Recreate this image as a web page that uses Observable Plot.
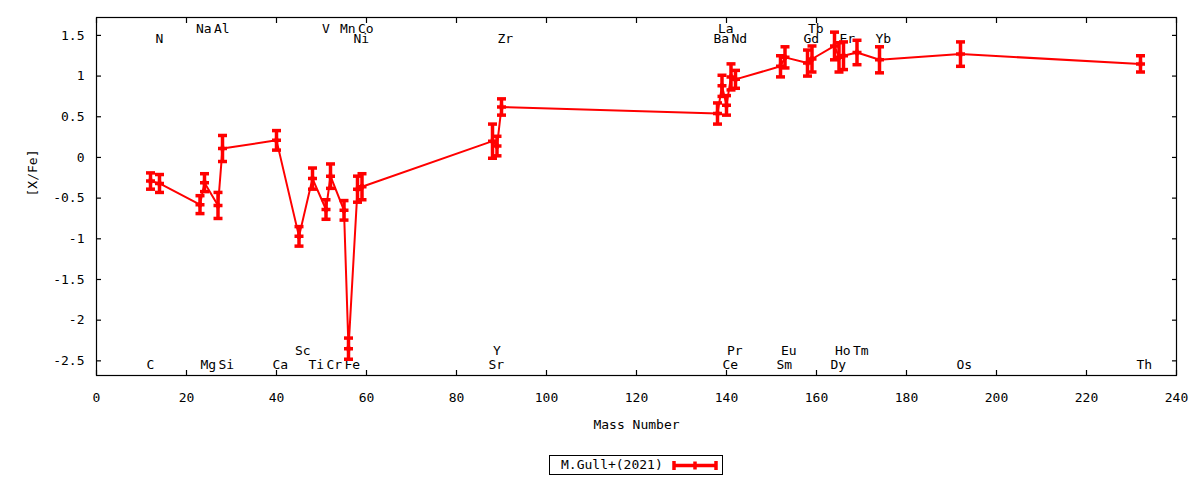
<!DOCTYPE html>
<html><head><meta charset="utf-8">
<script src="https://cdn.jsdelivr.net/npm/d3@7"></script>
<script src="https://cdn.jsdelivr.net/npm/@observablehq/plot@0.6"></script>
<style>
body{margin:0;background:#fff;font-family:"DejaVu Sans Mono",monospace;}
#wrap{position:relative;width:1200px;height:480px;background:#fff;}
#legend{position:absolute;left:549px;top:455px;width:172px;height:18px;border:1px solid #000;font-size:13px;color:#000;}
#legend span{position:absolute;left:11px;top:0px;line-height:18px;}
#legend svg{position:absolute;left:120px;top:0px;}
</style></head><body>
<div id="wrap"><div id="chart"></div>
<div id="legend"><span>M.Gull+(2021)</span>
<svg width="50" height="18"><g stroke="#ff0000" stroke-width="3.5"><line x1="4" y1="9.5" x2="46" y2="9.5"/><line x1="4" y1="5" x2="4" y2="14"/><line x1="46" y1="5" x2="46" y2="14"/><line x1="25" y1="5.5" x2="25" y2="13.5"/></g></svg>
</div></div>
<script>
// element, mass number, [X/Fe], error, label row (0 bottom-low, 1 bottom-high, 2 top-low, 3 top-high)
const elements = ["C","N","Na","Mg","Al","Si","Ca","Sc","Ti","V","Cr","Mn","Fe","Ni","Co","Sr","Y","Zr","Ba","La","Ce","Pr","Nd","Sm","Eu","Gd","Tb","Dy","Ho","Er","Tm","Yb","Os","Th"];
const masses   = [12,14,23,24,27,28,40,45,48,51,52,55,56,58,59,88,89,90,138,139,140,141,142,152,153,158,159,164,165,166,169,174,192,232];
const values   = [-0.29,-0.32,-0.58,-0.31,-0.59,0.11,0.21,-0.97,-0.26,-0.64,-0.23,-0.65,-2.35,-0.39,-0.36,0.20,0.14,0.62,0.54,0.88,0.64,0.99,0.96,1.12,1.23,1.16,1.21,1.37,1.23,1.25,1.29,1.20,1.27,1.15];
const errors   = [0.10,0.11,0.11,0.11,0.16,0.16,0.12,0.12,0.13,0.12,0.15,0.12,0.13,0.16,0.16,0.21,0.12,0.10,0.13,0.13,0.12,0.16,0.11,0.13,0.13,0.16,0.16,0.17,0.18,0.17,0.15,0.16,0.15,0.10];
const labelRows= [0,2,3,0,3,0,0,1,0,3,0,3,0,2,3,0,1,2,2,3,0,1,2,0,1,2,3,0,1,2,1,2,0,0];
const rowLevels = [-2.545,-2.373,1.463,1.586];
const xTicks = [0,20,40,60,80,100,120,140,160,180,200,220,240];
const yTicks = [-2.5,-2,-1.5,-1,-0.5,0,0.5,1,1.5];

const data = elements.map((el,i)=>({el, mass:masses[i], v:values[i], e:errors[i], row:labelRows[i]}));
const red = "#ff0000";
const capSymbol = {draw(ctx,size){const w=Math.sqrt(size/Math.PI);ctx.moveTo(-w,0);ctx.lineTo(w,0);}};
const plusSymbol = {draw(ctx,size){const w=Math.sqrt(size/Math.PI);ctx.moveTo(-w,0);ctx.lineTo(w,0);ctx.moveTo(0,-w*0.6);ctx.lineTo(0,w*0.6);}};
const blank = () => "";

const chart = Plot.plot({
  width:1200, height:440,
  marginLeft:96, marginRight:24, marginTop:17, marginBottom:65,
  style:{fontFamily:"'DejaVu Sans Mono', monospace", fontSize:"13px", background:"white", color:"black", overflow:"visible"},
  x:{domain:[0,240]},
  y:{domain:[-2.68,1.72]},
  marks:[
    Plot.axisX({anchor:"bottom", ticks:xTicks, tickSize:0, tickPadding:17, tickFormat:d=>String(d), label:null, fontSize:13}),
    Plot.axisY({anchor:"left", ticks:yTicks, tickSize:0, tickPadding:12, tickFormat:d=>String(d), label:null, fontSize:13}),
    Plot.axisX({anchor:"bottom", ticks:xTicks, tickSize:5, dy:-5, tickFormat:blank, label:null, strokeWidth:1.2}),
    Plot.axisX({anchor:"top", ticks:xTicks, tickSize:5, dy:5, tickFormat:blank, label:null, strokeWidth:1.2}),
    Plot.axisY({anchor:"left", ticks:yTicks, tickSize:5, dx:5, tickFormat:blank, label:null, strokeWidth:1.2}),
    Plot.axisY({anchor:"right", ticks:yTicks, tickSize:5, dx:-5, tickFormat:blank, label:null, strokeWidth:1.2}),
    Plot.frame({stroke:"black", strokeWidth:1.2}),
    Plot.text(["Mass Number"], {frameAnchor:"bottom", dy:53, text:d=>d, fontSize:13, fill:"black"}),
    Plot.text(["[X/Fe]"], {frameAnchor:"left", dx:-64, rotate:-90, text:d=>d, fontSize:13, fill:"black"}),
    Plot.text(data, {x:"mass", y:d=>rowLevels[d.row], text:"el", textAnchor:"start", dx:-4, fontSize:13, fill:"black"}),
    Plot.line(data, {x:"mass", y:"v", stroke:red, strokeWidth:2}),
    Plot.ruleX(data, {x:"mass", y1:d=>d.v-d.e, y2:d=>d.v+d.e, stroke:red, strokeWidth:3.5}),
    Plot.dot(data, {x:"mass", y:d=>d.v+d.e, symbol:capSymbol, r:4.5, fill:"none", stroke:red, strokeWidth:3.5}),
    Plot.dot(data, {x:"mass", y:d=>d.v-d.e, symbol:capSymbol, r:4.5, fill:"none", stroke:red, strokeWidth:3.5}),
    Plot.dot(data, {x:"mass", y:"v", symbol:plusSymbol, r:4.5, fill:"none", stroke:red, strokeWidth:3.5})
  ]
});
document.getElementById("chart").appendChild(chart);
</script>
</body></html>
